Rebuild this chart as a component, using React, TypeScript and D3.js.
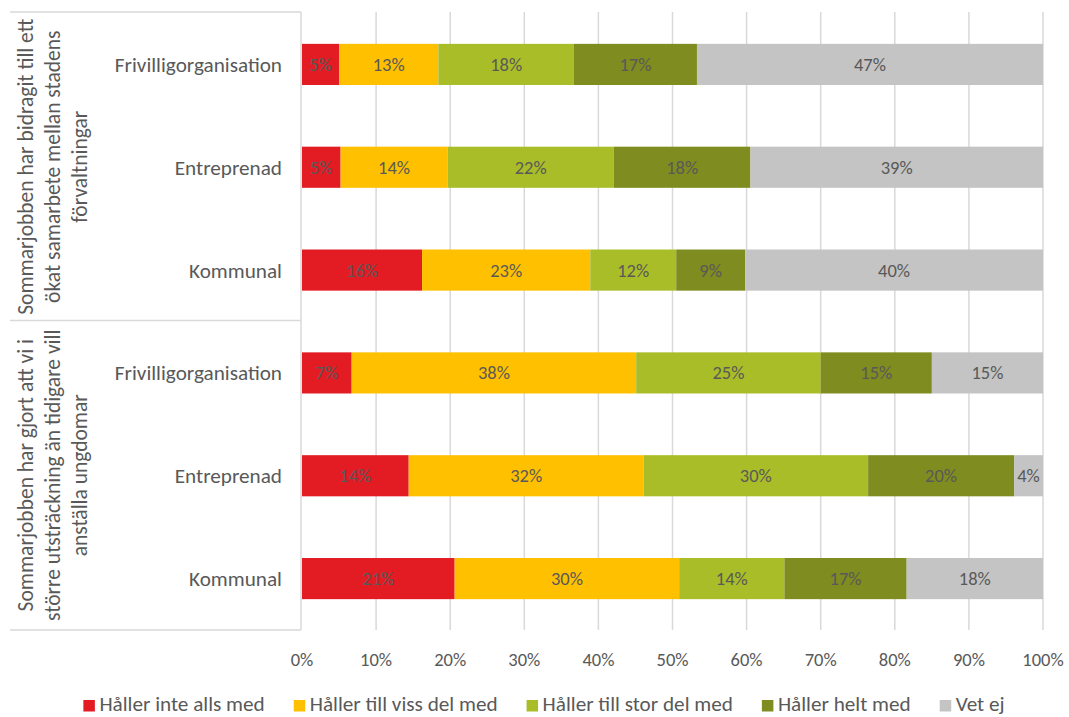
import React, { useEffect, useRef } from 'react'
import * as d3 from 'd3'

// svar per rad, i procent
const categories = ['Frivilligorganisation', 'Entreprenad', 'Kommunal']
const series = ['Håller inte alls med', 'Håller till viss del med', 'Håller till stor del med', 'Håller helt med', 'Vet ej']
const colors = ['#E31B23', '#FFC000', '#A9BD28', '#7F8C1F', '#C4C4C4']

const groups = [
  ['Sommarjobben har bidragit till ett', 'ökat samarbete mellan stadens', 'förvaltningar'],
  ['Sommarjobben har gjort att vi i', 'större utsträckning än tidigare vill', 'anställa ungdomar']
]

// grupp 1: samarbete mellan förvaltningar
const samarbete = [
  [5.0, 13.4, 18.3, 16.6, 46.7],
  [5.2, 14.4, 22.4, 18.4, 39.4],
  [16.2, 22.7, 11.6, 9.3, 40.2]
]
// grupp 2: anställa ungdomar
const anstalla = [
  [6.7, 38.4, 24.9, 15.0, 15.0],
  [14.4, 31.7, 30.3, 19.7, 3.9],
  [20.6, 30.3, 14.2, 16.5, 18.4]
]

const ticks = [0, 0.1, 0.2, 0.3, 0.4, 0.5, 0.6, 0.7, 0.8, 0.9, 1]

const FONT = 'Carlito, Calibri, Lato, sans-serif'
const GRAY = '#595959'
const GRID = '#D9D9D9'

export default function App () {
  const ref = useRef<SVGSVGElement>(null)

  useEffect(() => {
    const svg = d3.select(ref.current)
    svg.selectAll('*').remove()
    const width = 1069
    const height = 717
    const left = 302
    const right = 1043
    const top = 13
    const bottom = 630

    const rows: { key: string, cat: string, values: number[] }[] = []
    ;[samarbete, anstalla].forEach((g, gi) => {
      g.forEach((vals, i) => rows.push({ key: gi + '-' + i, cat: categories[i], values: vals }))
    })

    const x = d3.scaleLinear().domain([0, 1]).range([left, right])
    const y = d3.scaleBand().domain(rows.map(r => r.key)).range([top, bottom]).paddingInner(0.6).paddingOuter(0.3)

    svg.attr('width', width).attr('height', height).style('font-family', FONT)

    // gridlines
    svg.append('g').selectAll('line').data(ticks.slice(1)).enter().append('line')
      .attr('x1', d => x(d)).attr('x2', d => x(d))
      .attr('y1', top - 1).attr('y2', bottom)
      .attr('stroke', GRID).attr('stroke-width', 1.5)

    // vänster ram för grupperna
    const frame = svg.append('g').attr('stroke', GRID).attr('stroke-width', 1.5)
    frame.append('line').attr('x1', left - 1).attr('x2', left - 1).attr('y1', top - 1).attr('y2', bottom)
    const mid = (top + bottom) / 2 - 1
    ;[top - 1, mid, bottom].forEach(yy => {
      frame.append('line').attr('x1', 10).attr('x2', left - 1).attr('y1', yy).attr('y2', yy)
    })

    // staplar
    const stack = d3.stack<any, number>()
      .keys(d3.range(series.length))
      .value((d, k) => d.values[k] / d3.sum(d.values))
    const layers = stack(rows)

    layers.forEach((layer, si) => {
      const g = svg.append('g')
      g.selectAll('rect').data(layer).enter().append('rect')
        .attr('x', d => x(d[0]))
        .attr('width', d => x(d[1]) - x(d[0]))
        .attr('y', (d: any) => y(d.data.key) as number)
        .attr('height', y.bandwidth())
        .attr('fill', colors[si])
      g.selectAll('text').data(layer).enter().append('text')
        .attr('x', d => (x(d[0]) + x(d[1])) / 2)
        .attr('y', (d: any) => (y(d.data.key) as number) + y.bandwidth() / 2)
        .attr('dy', '0.35em')
        .attr('text-anchor', 'middle')
        .attr('font-size', 18.5)
        .attr('fill', GRAY)
        .text((d: any) => Math.round(d.data.values[si]) + '%')
    })

    // kategorier
    svg.append('g').selectAll('text').data(rows).enter().append('text')
      .attr('x', 282)
      .attr('y', d => (y(d.key) as number) + y.bandwidth() / 2)
      .attr('dy', '0.35em')
      .attr('text-anchor', 'end')
      .attr('font-size', 21.2)
      .attr('fill', GRAY)
      .text(d => d.cat)

    // gruppetiketter
    groups.forEach((lines, gi) => {
      const cy = gi === 0 ? (top + mid) / 2 : (mid + bottom) / 2
      lines.forEach((ln, li) => {
        const cx = 25.5 + li * 27
        svg.append('text')
          .attr('transform', 'translate(' + cx + ',' + cy + ') rotate(-90)')
          .attr('dy', '0.35em')
          .attr('text-anchor', 'middle')
          .attr('font-size', 21.5)
          .attr('fill', GRAY)
          .text(ln)
      })
    })

    // x-axel
    svg.append('g').selectAll('text').data(ticks).enter().append('text')
      .attr('x', d => x(d))
      .attr('y', 660)
      .attr('dy', '0.35em')
      .attr('text-anchor', 'middle')
      .attr('font-size', 18.5)
      .attr('fill', GRAY)
      .text(d => d3.format('.0%')(d))

    // legend
    const legend = svg.append('g')
    let cur = 0
    const gap = 29
    series.forEach((s, i) => {
      const item = legend.append('g').attr('transform', 'translate(' + cur + ',0)')
      item.append('rect').attr('x', 0).attr('y', 700).attr('width', 11.5).attr('height', 11.5).attr('fill', colors[i])
      const t = item.append('text')
        .attr('x', 16).attr('y', 711)
        .attr('font-size', 21.2).attr('fill', GRAY).text(s)
      const w = (t.node() as SVGTextElement).getComputedTextLength()
      cur += 16 + w + gap
    })
    const total = cur - gap
    legend.attr('transform', 'translate(' + (544 - total / 2) + ',0)')
  }, [])

  return (
    <div style={{ position: 'absolute', left: 0, top: 0 }}>
      <svg ref={ref} />
    </div>
  )
}
